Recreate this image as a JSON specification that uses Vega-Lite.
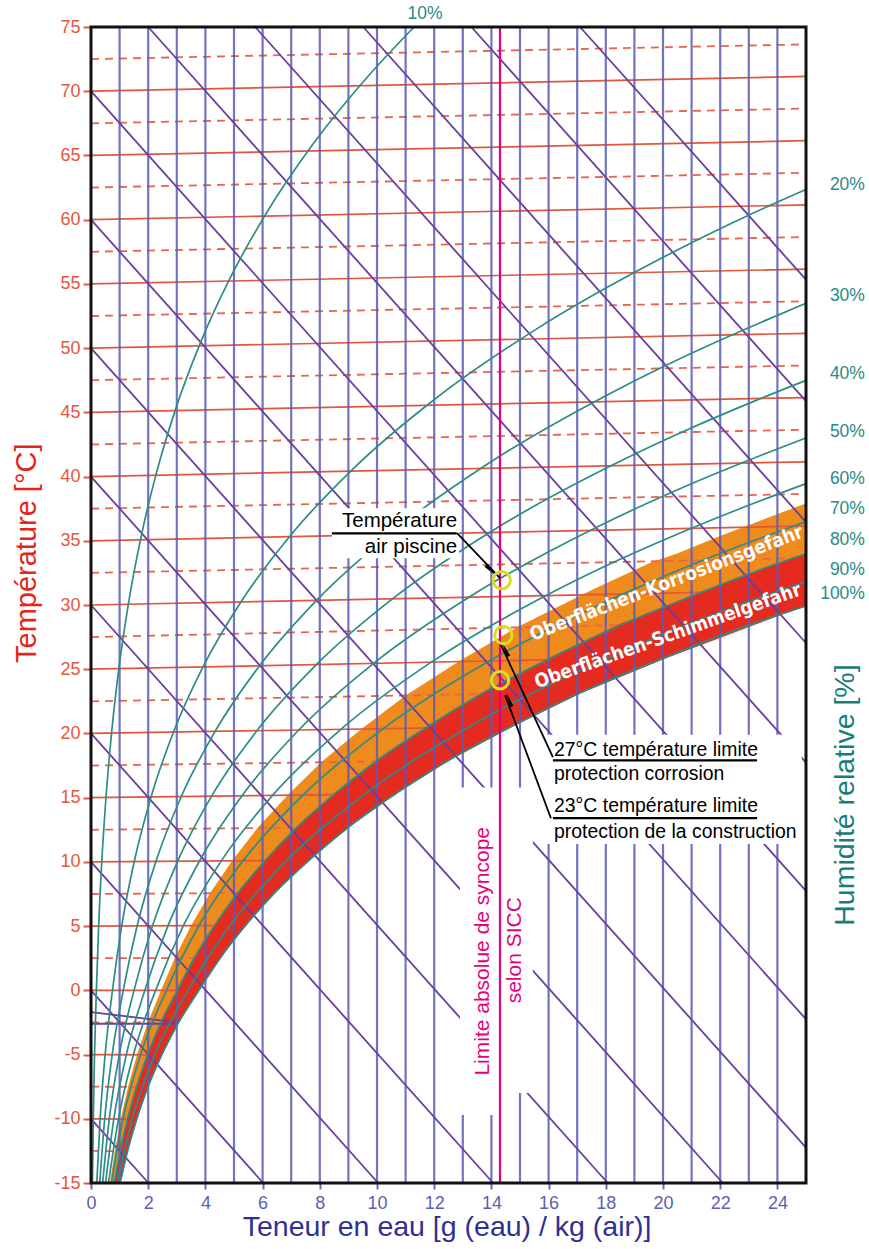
{
 "$schema": "https://vega.github.io/schema/vega-lite/v6.json",
 "width": 715,
 "height": 1156,
 "autosize": "none",
 "padding": {"left": 91, "top": 27, "right": 63, "bottom": 66},
 "background": "white",
 "config": {"view": {"stroke": null}, "font": "Liberation Sans",
  "axisX": {"grid": false, "domain": false, "labelFlush": false, "labelOverlap": false, "tickColor": "#6a6ab8", "tickSize": 6, "tickWidth": 2, "labelColor": "#5a5fae", "labelFontSize": 18, "labelPadding": 5, "labelFont": "Liberation Sans"},
  "axisY": {"grid": false, "domain": false, "labelFlush": false, "labelOverlap": false, "tickColor": "#e8553d", "tickSize": 8, "tickWidth": 2, "labelColor": "#e8553d", "labelFontSize": 18, "labelPadding": 3, "labelFont": "Liberation Sans"}
 },
 "datasets": {
  "orange": [
   {"y": -15, "xl": 0.66, "xr": 0.813}, {"y": -12.52, "xl": 0.83, "xr": 1.022}, {"y": -10.02, "xl": 1.039, "xr": 1.279},
   {"y": -7.52, "xl": 1.294, "xr": 1.594}, {"y": -5.02, "xl": 1.607, "xr": 1.98}, {"y": -2.51, "xl": 1.987, "xr": 2.448},
   {"y": 0, "xl": 2.448, "xr": 3.016}, {"y": 2.52, "xl": 2.931, "xr": 3.612}, {"y": 5.04, "xl": 3.501, "xr": 4.315},
   {"y": 7.56, "xl": 4.16, "xr": 5.128}, {"y": 10.1, "xl": 4.94, "xr": 6.091}, {"y": 12.65, "xl": 5.827, "xr": 7.187},
   {"y": 15.21, "xl": 6.882, "xr": 8.491}, {"y": 17.79, "xl": 8.066, "xr": 9.957}, {"y": 20.39, "xl": 9.476, "xr": 11.704},
   {"y": 23.01, "xl": 11.041, "xr": 13.645}, {"y": 25.67, "xl": 12.91, "xr": 15.966}, {"y": 28.35, "xl": 14.968, "xr": 18.525},
   {"y": 31.08, "xl": 17.419, "xr": 21.579}, {"y": 33.3, "xl": 19.577, "xr": 24.271}, {"y": 34.0, "xl": 20.49, "xr": 25},
   {"y": 35.38, "xl": 21.997, "xr": 25}, {"y": 37.64, "xl": 24.674, "xr": 25}, {"y": 37.91, "xl": 25, "xr": 25}
  ],
  "red": [
   {"y": -15, "xl": 0.813, "xr": 1.016}, {"y": -12.53, "xl": 1.022, "xr": 1.278}, {"y": -10.03, "xl": 1.279, "xr": 1.6},
   {"y": -7.52, "xl": 1.594, "xr": 1.993}, {"y": -5.02, "xl": 1.98, "xr": 2.476}, {"y": -2.51, "xl": 2.448, "xr": 3.063},
   {"y": 0, "xl": 3.016, "xr": 3.775}, {"y": 2.52, "xl": 3.612, "xr": 4.521}, {"y": 5.04, "xl": 4.315, "xr": 5.403},
   {"y": 7.58, "xl": 5.128, "xr": 6.423}, {"y": 10.13, "xl": 6.091, "xr": 7.632}, {"y": 12.69, "xl": 7.187, "xr": 9.01},
   {"y": 15.27, "xl": 8.491, "xr": 10.651}, {"y": 17.86, "xl": 9.957, "xr": 12.496}, {"y": 20.49, "xl": 11.704, "xr": 14.699},
   {"y": 23.14, "xl": 13.645, "xr": 17.15}, {"y": 25.84, "xl": 15.966, "xr": 20.086}, {"y": 28.56, "xl": 18.525, "xr": 23.33},
   {"y": 29.92, "xl": 20.17, "xr": 25}, {"y": 31.2, "xl": 21.579, "xr": 25}, {"y": 33.44, "xl": 24.271, "xr": 25},
   {"y": 34.0, "xl": 25, "xr": 25}
  ],
  "iso": [
   {"x1": 0, "y1": -12.5, "x2": 1.278, "y2": -12.53, "kind": "minor"},
   {"x1": 0, "y1": -10, "x2": 1.6, "y2": -10.03, "kind": "major"},
   {"x1": 0, "y1": -7.5, "x2": 1.993, "y2": -7.53, "kind": "minor"},
   {"x1": 0, "y1": -5, "x2": 2.476, "y2": -5.02, "kind": "major"},
   {"x1": 0, "y1": -2.5, "x2": 3.063, "y2": -2.51, "kind": "minor"},
   {"x1": 0, "y1": 0, "x2": 3.775, "y2": 0, "kind": "major"},
   {"x1": 0, "y1": 2.5, "x2": 4.521, "y2": 2.52, "kind": "minor"},
   {"x1": 0, "y1": 5, "x2": 5.403, "y2": 5.05, "kind": "major"},
   {"x1": 0, "y1": 7.5, "x2": 6.423, "y2": 7.59, "kind": "minor"},
   {"x1": 0, "y1": 10, "x2": 7.632, "y2": 10.14, "kind": "major"},
   {"x1": 0, "y1": 12.5, "x2": 9.01, "y2": 12.71, "kind": "minor"},
   {"x1": 0, "y1": 15, "x2": 10.651, "y2": 15.3, "kind": "major"},
   {"x1": 0, "y1": 17.5, "x2": 12.496, "y2": 17.9, "kind": "minor"},
   {"x1": 0, "y1": 20, "x2": 14.699, "y2": 20.54, "kind": "major"},
   {"x1": 0, "y1": 22.5, "x2": 17.15, "y2": 23.21, "kind": "minor"},
   {"x1": 0, "y1": 25, "x2": 20.086, "y2": 25.93, "kind": "major"},
   {"x1": 0, "y1": 27.5, "x2": 23.33, "y2": 28.69, "kind": "minor"},
   {"x1": 0, "y1": 30, "x2": 25, "y2": 31.15, "kind": "major"},
   {"x1": 0, "y1": 32.5, "x2": 25, "y2": 33.65, "kind": "minor"},
   {"x1": 0, "y1": 35, "x2": 25, "y2": 36.15, "kind": "major"},
   {"x1": 0, "y1": 37.5, "x2": 25, "y2": 38.65, "kind": "minor"},
   {"x1": 0, "y1": 40, "x2": 25, "y2": 41.15, "kind": "major"},
   {"x1": 0, "y1": 42.5, "x2": 25, "y2": 43.65, "kind": "minor"},
   {"x1": 0, "y1": 45, "x2": 25, "y2": 46.15, "kind": "major"},
   {"x1": 0, "y1": 47.5, "x2": 25, "y2": 48.65, "kind": "minor"},
   {"x1": 0, "y1": 50, "x2": 25, "y2": 51.15, "kind": "major"},
   {"x1": 0, "y1": 52.5, "x2": 25, "y2": 53.65, "kind": "minor"},
   {"x1": 0, "y1": 55, "x2": 25, "y2": 56.15, "kind": "major"},
   {"x1": 0, "y1": 57.5, "x2": 25, "y2": 58.65, "kind": "minor"},
   {"x1": 0, "y1": 60, "x2": 25, "y2": 61.15, "kind": "major"},
   {"x1": 0, "y1": 62.5, "x2": 25, "y2": 63.65, "kind": "minor"},
   {"x1": 0, "y1": 65, "x2": 25, "y2": 66.15, "kind": "major"},
   {"x1": 0, "y1": 67.5, "x2": 25, "y2": 68.65, "kind": "minor"},
   {"x1": 0, "y1": 70, "x2": 25, "y2": 71.15, "kind": "major"},
   {"x1": 0, "y1": 72.5, "x2": 25, "y2": 73.65, "kind": "minor"}
  ],
  "vgrid": [
   {"x": 1}, {"x": 2}, {"x": 3}, {"x": 4}, {"x": 5}, {"x": 6}, {"x": 7}, {"x": 8}, {"x": 9}, {"x": 10}, {"x": 11}, {"x": 12},
   {"x": 13}, {"x": 14}, {"x": 15}, {"x": 16}, {"x": 17}, {"x": 18}, {"x": 19}, {"x": 20}, {"x": 21}, {"x": 22}, {"x": 23}, {"x": 24}
  ],
  "enth": [
   {"x1": 0, "y1": -10, "x2": 2.01, "y2": -15}, {"x1": 0, "y1": 0, "x2": 6.02, "y2": -15},
   {"x1": 0, "y1": 10, "x2": 10.04, "y2": -15}, {"x1": 0, "y1": 20, "x2": 14.06, "y2": -15},
   {"x1": 0, "y1": 30, "x2": 18.07, "y2": -15}, {"x1": 0, "y1": 40, "x2": 22.09, "y2": -15},
   {"x1": 0, "y1": 50, "x2": 25, "y2": -12.25}, {"x1": 0, "y1": 60, "x2": 25, "y2": -2.25},
   {"x1": 0, "y1": 70, "x2": 25, "y2": 7.75}, {"x1": 2.0, "y1": 75, "x2": 25, "y2": 17.73},
   {"x1": 5.74, "y1": 75, "x2": 25, "y2": 27.04}, {"x1": 9.52, "y1": 75, "x2": 25, "y2": 36.45},
   {"x1": 13.3, "y1": 75, "x2": 25, "y2": 45.87}, {"x1": 17.1, "y1": 75, "x2": 25, "y2": 55.33},
   {"x1": 0, "y1": -1.7, "x2": 2.94, "y2": -2.47}, {"x1": 0, "y1": -2.6, "x2": 2.94, "y2": -2.6}
  ],
  "rh": [
   {"phi": 5, "t": -15, "x": 0.051, "y": -15.0}, {"phi": 5, "t": -10, "x": 0.08, "y": -10.0}, {"phi": 5, "t": -5, "x": 0.123, "y": -5.0},
   {"phi": 5, "t": 0, "x": 0.188, "y": 0}, {"phi": 5, "t": 5, "x": 0.268, "y": 5.0}, {"phi": 5, "t": 10, "x": 0.377, "y": 10.01},
   {"phi": 5, "t": 15, "x": 0.524, "y": 15.01}, {"phi": 5, "t": 20, "x": 0.719, "y": 20.03}, {"phi": 5, "t": 25, "x": 0.974, "y": 25.05},
   {"phi": 5, "t": 30, "x": 1.306, "y": 30.07}, {"phi": 5, "t": 35, "x": 1.732, "y": 35.11}, {"phi": 5, "t": 40, "x": 2.275, "y": 40.17},
   {"phi": 5, "t": 45, "x": 2.959, "y": 45.25}, {"phi": 5, "t": 50, "x": 3.814, "y": 50.35}, {"phi": 5, "t": 55, "x": 4.876, "y": 55.5},
   {"phi": 5, "t": 60, "x": 6.183, "y": 60.69}, {"phi": 5, "t": 65, "x": 7.782, "y": 65.94}, {"phi": 5, "t": 70, "x": 9.726, "y": 71.26},
   {"phi": 5, "t": 73.45, "x": 11.288, "y": 74.98},
   {"phi": 20, "t": -15, "x": 0.203, "y": -15.01}, {"phi": 20, "t": -10, "x": 0.319, "y": -10.01}, {"phi": 20, "t": -5, "x": 0.494, "y": -5.0},
   {"phi": 20, "t": 0, "x": 0.751, "y": 0}, {"phi": 20, "t": 5, "x": 1.073, "y": 5.01}, {"phi": 20, "t": 10, "x": 1.512, "y": 10.03},
   {"phi": 20, "t": 15, "x": 2.101, "y": 15.06}, {"phi": 20, "t": 20, "x": 2.885, "y": 20.11}, {"phi": 20, "t": 25, "x": 3.916, "y": 25.18},
   {"phi": 20, "t": 30, "x": 5.258, "y": 30.29}, {"phi": 20, "t": 35, "x": 6.988, "y": 35.45}, {"phi": 20, "t": 40, "x": 9.2, "y": 40.68},
   {"phi": 20, "t": 45, "x": 12.007, "y": 46.0}, {"phi": 20, "t": 50, "x": 15.543, "y": 51.44}, {"phi": 20, "t": 55, "x": 19.972, "y": 57.03},
   {"phi": 20, "t": 58, "x": 23.123, "y": 60.48}, {"phi": 20, "t": 59.59, "x": 25, "y": 62.35},
   {"phi": 30, "t": -15, "x": 0.305, "y": -15.01}, {"phi": 30, "t": -10, "x": 0.479, "y": -10.01}, {"phi": 30, "t": -5, "x": 0.741, "y": -5.01},
   {"phi": 30, "t": 0, "x": 1.128, "y": 0}, {"phi": 30, "t": 5, "x": 1.611, "y": 5.01}, {"phi": 30, "t": 10, "x": 2.27, "y": 10.04},
   {"phi": 30, "t": 15, "x": 3.157, "y": 15.09}, {"phi": 30, "t": 20, "x": 4.338, "y": 20.16}, {"phi": 30, "t": 25, "x": 5.893, "y": 25.27},
   {"phi": 30, "t": 30, "x": 7.92, "y": 30.44}, {"phi": 30, "t": 35, "x": 10.542, "y": 35.68}, {"phi": 30, "t": 40, "x": 13.903, "y": 41.03},
   {"phi": 30, "t": 45, "x": 18.186, "y": 46.51}, {"phi": 30, "t": 48, "x": 21.276, "y": 49.89}, {"phi": 30, "t": 50, "x": 23.609, "y": 52.18},
   {"phi": 30, "t": 51.13, "x": 25, "y": 53.49},
   {"phi": 40, "t": -15, "x": 0.406, "y": -15.01}, {"phi": 40, "t": -10, "x": 0.639, "y": -10.01}, {"phi": 40, "t": -5, "x": 0.988, "y": -5.01},
   {"phi": 40, "t": 0, "x": 1.505, "y": 0}, {"phi": 40, "t": 5, "x": 2.15, "y": 5.02}, {"phi": 40, "t": 10, "x": 3.031, "y": 10.06},
   {"phi": 40, "t": 15, "x": 4.217, "y": 15.12}, {"phi": 40, "t": 20, "x": 5.797, "y": 20.21}, {"phi": 40, "t": 25, "x": 7.882, "y": 25.36},
   {"phi": 40, "t": 30, "x": 10.606, "y": 30.59}, {"phi": 40, "t": 35, "x": 14.135, "y": 35.92}, {"phi": 40, "t": 40, "x": 18.676, "y": 41.38},
   {"phi": 40, "t": 42, "x": 20.829, "y": 43.62}, {"phi": 40, "t": 44, "x": 23.212, "y": 45.89}, {"phi": 40, "t": 45.39, "x": 25, "y": 47.49},
   {"phi": 50, "t": -15, "x": 0.508, "y": -15.01}, {"phi": 50, "t": -10, "x": 0.799, "y": -10.01}, {"phi": 50, "t": -5, "x": 1.236, "y": -5.01},
   {"phi": 50, "t": 0, "x": 1.882, "y": 0}, {"phi": 50, "t": 5, "x": 2.69, "y": 5.02}, {"phi": 50, "t": 10, "x": 3.793, "y": 10.07},
   {"phi": 50, "t": 15, "x": 5.28, "y": 15.15}, {"phi": 50, "t": 20, "x": 7.264, "y": 20.27}, {"phi": 50, "t": 25, "x": 9.883, "y": 25.46},
   {"phi": 50, "t": 30, "x": 13.313, "y": 30.74}, {"phi": 50, "t": 35, "x": 17.77, "y": 36.15}, {"phi": 50, "t": 38, "x": 21.034, "y": 39.48},
   {"phi": 50, "t": 40, "x": 23.523, "y": 41.74}, {"phi": 50, "t": 41.11, "x": 25, "y": 43.01},
   {"phi": 60, "t": -15, "x": 0.609, "y": -15.02}, {"phi": 60, "t": -10, "x": 0.959, "y": -10.02}, {"phi": 60, "t": -5, "x": 1.483, "y": -5.01},
   {"phi": 60, "t": 0, "x": 2.259, "y": 0}, {"phi": 60, "t": 5, "x": 3.23, "y": 5.03}, {"phi": 60, "t": 10, "x": 4.557, "y": 10.08},
   {"phi": 60, "t": 15, "x": 6.347, "y": 15.18}, {"phi": 60, "t": 20, "x": 8.737, "y": 20.32}, {"phi": 60, "t": 25, "x": 11.898, "y": 25.55},
   {"phi": 60, "t": 30, "x": 16.045, "y": 30.89}, {"phi": 60, "t": 32, "x": 18.028, "y": 33.07}, {"phi": 60, "t": 34, "x": 20.249, "y": 35.27},
   {"phi": 60, "t": 36, "x": 22.707, "y": 37.51}, {"phi": 60, "t": 37.71, "x": 25, "y": 39.45},
   {"phi": 70, "t": -15, "x": 0.711, "y": -15.02}, {"phi": 70, "t": -10, "x": 1.119, "y": -10.02}, {"phi": 70, "t": -5, "x": 1.731, "y": -5.02},
   {"phi": 70, "t": 0, "x": 2.638, "y": 0}, {"phi": 70, "t": 5, "x": 3.772, "y": 5.03}, {"phi": 70, "t": 10, "x": 5.323, "y": 10.1},
   {"phi": 70, "t": 15, "x": 7.417, "y": 15.21}, {"phi": 70, "t": 20, "x": 10.217, "y": 20.38}, {"phi": 70, "t": 25, "x": 13.926, "y": 25.64},
   {"phi": 70, "t": 28, "x": 16.683, "y": 28.86}, {"phi": 70, "t": 30, "x": 18.8, "y": 31.04}, {"phi": 70, "t": 32, "x": 21.134, "y": 33.25},
   {"phi": 70, "t": 34, "x": 23.754, "y": 35.49}, {"phi": 70, "t": 34.88, "x": 25, "y": 36.49},
   {"phi": 80, "t": -15, "x": 0.813, "y": -15.02}, {"phi": 80, "t": -12.5, "x": 1.022, "y": -12.52}, {"phi": 80, "t": -10, "x": 1.279, "y": -10.02},
   {"phi": 80, "t": -7.5, "x": 1.594, "y": -7.52}, {"phi": 80, "t": -5, "x": 1.98, "y": -5.02}, {"phi": 80, "t": -2.5, "x": 2.448, "y": -2.51},
   {"phi": 80, "t": 0, "x": 3.016, "y": 0}, {"phi": 80, "t": 2.5, "x": 3.612, "y": 2.52}, {"phi": 80, "t": 5, "x": 4.315, "y": 5.04},
   {"phi": 80, "t": 7.5, "x": 5.128, "y": 7.57}, {"phi": 80, "t": 10, "x": 6.091, "y": 10.11}, {"phi": 80, "t": 12.5, "x": 7.187, "y": 12.67},
   {"phi": 80, "t": 15, "x": 8.491, "y": 15.24}, {"phi": 80, "t": 17.5, "x": 9.957, "y": 17.82}, {"phi": 80, "t": 20, "x": 11.704, "y": 20.43},
   {"phi": 80, "t": 22.5, "x": 13.645, "y": 23.07}, {"phi": 80, "t": 25, "x": 15.966, "y": 25.74}, {"phi": 80, "t": 27.5, "x": 18.525, "y": 28.44},
   {"phi": 80, "t": 30, "x": 21.579, "y": 31.2}, {"phi": 80, "t": 32, "x": 24.271, "y": 33.44}, {"phi": 80, "t": 32.5, "x": 25, "y": 34.0},
   {"phi": 90, "t": -15, "x": 0.915, "y": -15.03}, {"phi": 90, "t": -10, "x": 1.439, "y": -10.03}, {"phi": 90, "t": -5, "x": 2.228, "y": -5.02},
   {"phi": 90, "t": 0, "x": 3.395, "y": 0}, {"phi": 90, "t": 5, "x": 4.858, "y": 5.04}, {"phi": 90, "t": 10, "x": 6.86, "y": 10.13},
   {"phi": 90, "t": 15, "x": 9.569, "y": 15.27}, {"phi": 90, "t": 20, "x": 13.198, "y": 20.49}, {"phi": 90, "t": 25, "x": 18.019, "y": 25.83},
   {"phi": 90, "t": 27, "x": 20.352, "y": 28.02}, {"phi": 90, "t": 29, "x": 22.949, "y": 30.23}, {"phi": 90, "t": 30.42, "x": 25, "y": 31.83},
   {"phi": 100, "t": -15, "x": 1.016, "y": -15.03}, {"phi": 100, "t": -12.5, "x": 1.278, "y": -12.53}, {"phi": 100, "t": -10, "x": 1.6, "y": -10.03},
   {"phi": 100, "t": -7.5, "x": 1.993, "y": -7.53}, {"phi": 100, "t": -5, "x": 2.476, "y": -5.02}, {"phi": 100, "t": -2.5, "x": 3.063, "y": -2.51},
   {"phi": 100, "t": 0, "x": 3.775, "y": 0}, {"phi": 100, "t": 2.5, "x": 4.521, "y": 2.52}, {"phi": 100, "t": 5, "x": 5.403, "y": 5.05},
   {"phi": 100, "t": 7.5, "x": 6.423, "y": 7.59}, {"phi": 100, "t": 10, "x": 7.632, "y": 10.14}, {"phi": 100, "t": 12.5, "x": 9.01, "y": 12.71},
   {"phi": 100, "t": 15, "x": 10.651, "y": 15.3}, {"phi": 100, "t": 17.5, "x": 12.496, "y": 17.9}, {"phi": 100, "t": 20, "x": 14.699, "y": 20.54},
   {"phi": 100, "t": 22.5, "x": 17.15, "y": 23.21}, {"phi": 100, "t": 25, "x": 20.086, "y": 25.93}, {"phi": 100, "t": 27.5, "x": 23.33, "y": 28.69},
   {"phi": 100, "t": 28.6, "x": 25, "y": 29.92}
  ],
  "boxes": [
   {"x": 12.9, "x2": 14.3, "y": -9.7, "y2": 15.8},
   {"x": 14.3, "x2": 15.45, "y": -8.0, "y2": 15.8},
   {"x": 8.42, "x2": 12.87, "y": 33.64, "y2": 37.54},
   {"x": 15.75, "x2": 24.85, "y": 11.4, "y2": 19.9}
  ],
  "limit": [{"x": 14.3}],
  "limitText": [
   {"text": "Limite absolue de syncope", "x": 13.72, "y": 3.04},
   {"text": "selon SICC", "x": 14.84, "y": 3.12}
  ],
  "annotR": [
   {"text": "Température", "x": 12.8, "y": 36.06},
   {"text": "air piscine", "x": 12.8, "y": 34.03}
  ],
  "annotL": [
   {"text": "27°C température limite", "x": 16.19, "y": 18.22},
   {"text": "protection corrosion", "x": 16.19, "y": 16.36},
   {"text": "23°C température limite", "x": 16.19, "y": 13.86},
   {"text": "protection de la construction", "x": 16.19, "y": 11.84}
  ],
  "underlines": [
   {"x": 8.42, "x2": 12.79, "y": 35.57},
   {"x": 16.15, "x2": 23.29, "y": 17.91},
   {"x": 16.15, "x2": 23.29, "y": 13.4}
  ],
  "arrows": [
   {"x1": 16.15, "y1": 18.15, "x2": 14.34, "y2": 26.87},
   {"x1": 16.08, "y1": 13.4, "x2": 14.48, "y2": 22.97},
   {"x1": 12.8, "y1": 35.6, "x2": 14.3, "y2": 32.09}
  ],
  "heads": [
   {"id": "a", "x": 14.53, "y": 26.33},
   {"id": "b", "x": 14.65, "y": 22.43},
   {"id": "c", "x": 13.92, "y": 32.83}
  ],
  "circles": [
   {"x": 14.36, "y": 31.93}, {"x": 14.42, "y": 27.65}, {"x": 14.3, "y": 24.14}
  ],
  "rhLabels": [
   {"text": "20%", "x": 27.06, "y": 62.7}, {"text": "30%", "x": 27.06, "y": 54.05}, {"text": "40%", "x": 27.06, "y": 47.97},
   {"text": "50%", "x": 27.06, "y": 43.46}, {"text": "60%", "x": 27.06, "y": 39.8}, {"text": "70%", "x": 27.06, "y": 37.46},
   {"text": "80%", "x": 27.06, "y": 35.05}, {"text": "90%", "x": 27.06, "y": 32.71}, {"text": "100%", "x": 27.06, "y": 30.84}
  ],
  "topLabel": [{"text": "10%", "x": 11.68, "y": 76.0}],
  "titles": [
   {"id": "left", "text": "Température [°C]", "x": -2.24, "y": 34.03},
   {"id": "bottom", "text": "Teneur en eau [g (eau) / kg (air)]", "x": 12.45, "y": -18.46},
   {"id": "right", "text": "Humidité relative [%]", "x": 26.36, "y": 15.2}
  ],
  "bandText": [
   {"id": "k", "text": "Oberflächen-Korrosionsgefahr", "x": 20.12, "y": 31.7},
   {"id": "s", "text": "Oberflächen-Schimmelgefahr", "x": 20.17, "y": 27.6}
  ],
  "frame": [{"x": 0, "x2": 25, "y": -15, "y2": 75}]
 },
 "layer": [
  {
   "data": {"name": "orange"},
   "mark": {"type": "area", "orient": "horizontal", "color": "#ef8a1d", "opacity": 1},
   "encoding": {
    "y": {"field": "y", "type": "quantitative", "title": null, "scale": {"domain": [-15, 75], "nice": false, "zero": false},
     "axis": {"values": [-15, -10, -5, 0, 5, 10, 15, 20, 25, 30, 35, 40, 45, 50, 55, 60, 65, 70, 75], "title": null, "labelExpr": "'' + datum.value"}},
    "x": {"field": "xl", "type": "quantitative", "title": null, "scale": {"domain": [0, 25], "nice": false, "zero": false},
     "axis": {"values": [0, 1, 2, 3, 4, 5, 6, 7, 8, 9, 10, 11, 12, 13, 14, 15, 16, 17, 18, 19, 20, 21, 22, 23, 24, 25],
      "labelExpr": "datum.value % 2 === 0 && datum.value < 25 ? '' + datum.value : ''", "title": null}},
    "x2": {"field": "xr"}
   }
  },
  {
   "data": {"name": "iso"},
   "transform": [{"filter": "datum.kind === 'major'"}],
   "mark": {"type": "rule", "color": "#e5553b", "strokeWidth": 1.7},
   "encoding": {
    "x": {"field": "x1", "type": "quantitative", "title": null},
    "y": {"field": "y1", "type": "quantitative", "title": null},
    "x2": {"field": "x2"}, "y2": {"field": "y2"}
   }
  },
  {
   "data": {"name": "iso"},
   "transform": [{"filter": "datum.kind === 'minor'"}],
   "mark": {"type": "rule", "color": "#e8654a", "strokeWidth": 1.8, "strokeDash": [8, 6]},
   "encoding": {
    "x": {"field": "x1", "type": "quantitative", "title": null},
    "y": {"field": "y1", "type": "quantitative", "title": null},
    "x2": {"field": "x2"}, "y2": {"field": "y2"}
   }
  },
  {
   "data": {"name": "red"},
   "mark": {"type": "area", "orient": "horizontal", "color": "#e52b1f", "opacity": 1},
   "encoding": {
    "y": {"field": "y", "type": "quantitative", "title": null},
    "x": {"field": "xl", "type": "quantitative", "title": null},
    "x2": {"field": "xr"}
   }
  },
  {
   "data": {"name": "vgrid"},
   "mark": {"type": "rule", "color": "#5a5ab6", "strokeWidth": 2.2, "opacity": 0.85},
   "encoding": {
    "x": {"field": "x", "type": "quantitative", "title": null}
   }
  },
  {
   "data": {"name": "enth"},
   "mark": {"type": "rule", "color": "#6b3d9c", "strokeWidth": 1.8},
   "encoding": {
    "x": {"field": "x1", "type": "quantitative", "title": null},
    "y": {"field": "y1", "type": "quantitative", "title": null},
    "x2": {"field": "x2"}, "y2": {"field": "y2"}
   }
  },
  {
   "data": {"name": "rh"},
   "mark": {"type": "line", "color": "#2c8c88", "strokeWidth": 1.7, "interpolate": "monotone"},
   "encoding": {
    "x": {"field": "x", "type": "quantitative", "title": null},
    "y": {"field": "y", "type": "quantitative", "title": null},
    "detail": {"field": "phi", "type": "nominal"},
    "order": {"field": "t", "type": "quantitative"}
   }
  },
  {
   "data": {"name": "bandText"},
   "transform": [{"filter": "datum.id === 'k'"}],
   "mark": {"type": "text", "color": "white", "font": "DejaVu Sans Condensed", "fontWeight": "bold", "fontSize": 19, "angle": 339, "align": "center", "baseline": "middle"},
   "encoding": {
    "x": {"field": "x", "type": "quantitative", "title": null},
    "y": {"field": "y", "type": "quantitative", "title": null},
    "text": {"field": "text"}
   }
  },
  {
   "data": {"name": "bandText"},
   "transform": [{"filter": "datum.id === 's'"}],
   "mark": {"type": "text", "color": "white", "font": "DejaVu Sans Condensed", "fontWeight": "bold", "fontSize": 19, "angle": 340.5, "align": "center", "baseline": "middle"},
   "encoding": {
    "x": {"field": "x", "type": "quantitative", "title": null},
    "y": {"field": "y", "type": "quantitative", "title": null},
    "text": {"field": "text"}
   }
  },
  {
   "data": {"name": "boxes"},
   "mark": {"type": "rect", "color": "white"},
   "encoding": {
    "x": {"field": "x", "type": "quantitative", "title": null},
    "y": {"field": "y", "type": "quantitative", "title": null},
    "x2": {"field": "x2"}, "y2": {"field": "y2"}
   }
  },
  {
   "data": {"name": "limit"},
   "mark": {"type": "rule", "color": "#e4007c", "strokeWidth": 2.2},
   "encoding": {
    "x": {"field": "x", "type": "quantitative", "title": null}
   }
  },
  {
   "data": {"name": "limitText"},
   "mark": {"type": "text", "color": "#e4007c", "fontSize": 21, "angle": 270, "align": "center", "baseline": "middle", "font": "Liberation Sans"},
   "encoding": {
    "x": {"field": "x", "type": "quantitative", "title": null},
    "y": {"field": "y", "type": "quantitative", "title": null},
    "text": {"field": "text"}
   }
  },
  {
   "data": {"name": "annotR"},
   "mark": {"type": "text", "color": "black", "fontSize": 20.5, "align": "right", "baseline": "alphabetic", "font": "Liberation Sans"},
   "encoding": {
    "x": {"field": "x", "type": "quantitative", "title": null},
    "y": {"field": "y", "type": "quantitative", "title": null},
    "text": {"field": "text"}
   }
  },
  {
   "data": {"name": "annotL"},
   "mark": {"type": "text", "color": "black", "fontSize": 19.4, "align": "left", "baseline": "alphabetic", "font": "Liberation Sans"},
   "encoding": {
    "x": {"field": "x", "type": "quantitative", "title": null},
    "y": {"field": "y", "type": "quantitative", "title": null},
    "text": {"field": "text"}
   }
  },
  {
   "data": {"name": "underlines"},
   "mark": {"type": "rule", "color": "black", "strokeWidth": 2.2},
   "encoding": {
    "x": {"field": "x", "type": "quantitative", "title": null},
    "y": {"field": "y", "type": "quantitative", "title": null},
    "x2": {"field": "x2"}
   }
  },
  {
   "data": {"name": "arrows"},
   "mark": {"type": "rule", "color": "black", "strokeWidth": 1.8},
   "encoding": {
    "x": {"field": "x1", "type": "quantitative", "title": null},
    "y": {"field": "y1", "type": "quantitative", "title": null},
    "x2": {"field": "x2"}, "y2": {"field": "y2"}
   }
  },
  {
   "data": {"name": "heads"},
   "transform": [{"filter": "datum.id === 'a'"}],
   "mark": {"type": "point", "shape": "wedge", "filled": true, "color": "black", "size": 260, "angle": 335.5, "opacity": 1},
   "encoding": {
    "x": {"field": "x", "type": "quantitative", "title": null},
    "y": {"field": "y", "type": "quantitative", "title": null}
   }
  },
  {
   "data": {"name": "heads"},
   "transform": [{"filter": "datum.id === 'b'"}],
   "mark": {"type": "point", "shape": "wedge", "filled": true, "color": "black", "size": 260, "angle": 339.5, "opacity": 1},
   "encoding": {
    "x": {"field": "x", "type": "quantitative", "title": null},
    "y": {"field": "y", "type": "quantitative", "title": null}
   }
  },
  {
   "data": {"name": "heads"},
   "transform": [{"filter": "datum.id === 'c'"}],
   "mark": {"type": "point", "shape": "wedge", "filled": true, "color": "black", "size": 260, "angle": 136.3, "opacity": 1},
   "encoding": {
    "x": {"field": "x", "type": "quantitative", "title": null},
    "y": {"field": "y", "type": "quantitative", "title": null}
   }
  },
  {
   "data": {"name": "circles"},
   "mark": {"type": "point", "shape": "circle", "filled": false, "color": "#d7df23", "size": 300, "strokeWidth": 3, "opacity": 1},
   "encoding": {
    "x": {"field": "x", "type": "quantitative", "title": null},
    "y": {"field": "y", "type": "quantitative", "title": null}
   }
  },
  {
   "data": {"name": "rhLabels"},
   "mark": {"type": "text", "color": "#2a8a85", "fontSize": 17.5, "align": "right", "baseline": "middle", "font": "Liberation Sans"},
   "encoding": {
    "x": {"field": "x", "type": "quantitative", "title": null},
    "y": {"field": "y", "type": "quantitative", "title": null},
    "text": {"field": "text"}
   }
  },
  {
   "data": {"name": "topLabel"},
   "mark": {"type": "text", "color": "#2a8a85", "fontSize": 17.5, "align": "center", "baseline": "middle", "font": "Liberation Sans"},
   "encoding": {
    "x": {"field": "x", "type": "quantitative", "title": null},
    "y": {"field": "y", "type": "quantitative", "title": null},
    "text": {"field": "text"}
   }
  },
  {
   "data": {"name": "titles"},
   "transform": [{"filter": "datum.id === 'left'"}],
   "mark": {"type": "text", "color": "#e3251b", "fontSize": 29, "angle": 270, "align": "center", "baseline": "middle", "font": "Liberation Sans"},
   "encoding": {
    "x": {"field": "x", "type": "quantitative", "title": null},
    "y": {"field": "y", "type": "quantitative", "title": null},
    "text": {"field": "text"}
   }
  },
  {
   "data": {"name": "titles"},
   "transform": [{"filter": "datum.id === 'bottom'"}],
   "mark": {"type": "text", "color": "#2e3192", "fontSize": 28.5, "align": "center", "baseline": "middle", "font": "Liberation Sans"},
   "encoding": {
    "x": {"field": "x", "type": "quantitative", "title": null},
    "y": {"field": "y", "type": "quantitative", "title": null},
    "text": {"field": "text"}
   }
  },
  {
   "data": {"name": "titles"},
   "transform": [{"filter": "datum.id === 'right'"}],
   "mark": {"type": "text", "color": "#177d79", "fontSize": 28.5, "angle": 270, "align": "center", "baseline": "middle", "font": "Liberation Sans"},
   "encoding": {
    "x": {"field": "x", "type": "quantitative", "title": null},
    "y": {"field": "y", "type": "quantitative", "title": null},
    "text": {"field": "text"}
   }
  },
  {
   "data": {"name": "frame"},
   "mark": {"type": "rect", "fill": "transparent", "stroke": "#111111", "strokeWidth": 3},
   "encoding": {
    "x": {"field": "x", "type": "quantitative", "title": null},
    "y": {"field": "y", "type": "quantitative", "title": null},
    "x2": {"field": "x2"}, "y2": {"field": "y2"}
   }
  }
 ]
}
